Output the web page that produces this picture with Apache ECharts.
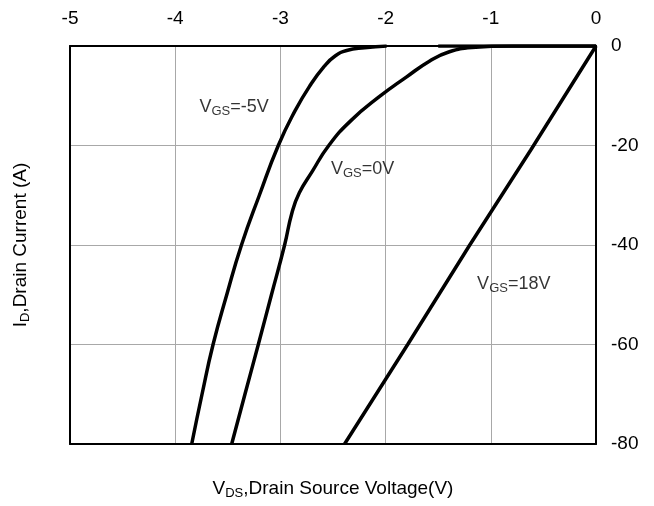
<!doctype html>
<html>
<head>
<meta charset="utf-8">
<title>ID-VDS</title>
<script src="https://cdn.jsdelivr.net/npm/echarts@6/dist/echarts.min.js"></script>
<style>
  html, body { margin: 0; padding: 0; background: #fff; }
  #chart { width: 654px; height: 506px; }
</style>
</head>
<body>
<div id="chart"></div>
<script>
// tick values
let xTicks = [-5, -4, -3, -2, -1, 0];
let yTicks = [0, -20, -40, -60, -80];

// curves: [VDS, ID]
let vgsM5 = [[-3.843, -80], [-3.745, -70], [-3.64, -60], [-3.51, -50], [-3.37, -40],
  [-3.2, -30], [-3.02, -20], [-2.86, -13], [-2.72, -8], [-2.58, -4], [-2.48, -2],
  [-2.37, -0.9], [-2.2, -0.35], [-1.99, 0]];
let vgs0 = [[-3.463, -80], [-3.337, -70], [-3.21, -60], [-3.085, -50], [-2.96, -40],
  [-2.89, -33.5], [-2.82, -29.5], [-2.7, -25.3], [-2.54, -20], [-2.33, -15],
  [-2.06, -10.2], [-1.8, -6.2], [-1.58, -3], [-1.4, -1.2], [-1.18, -0.3],
  [-0.8, 0], [0, 0]];
let vgs18 = [[-1.5, 0], [0, 0], [-0.62, -20.9], [-1.2, -40], [-1.79, -60], [-2.39, -80]];

// label anchors
let labels = [
  { name: '-5V', at: [-3.77, -12.2] },
  { name: '0V', at: [-2.52, -24.7] },
  { name: '18V', at: [-1.13, -47.8] }
];

let font = 'Liberation Sans, Arial, sans-serif';
function richSub(size, sub, pad) {
  return {
    n: { fontSize: size, fontFamily: font, color: '#000' },
    s: { fontSize: sub, fontFamily: font, color: '#000', verticalAlign: 'bottom', padding: [pad, 0, 0, 0] }
  };
}

var chart = echarts.init(document.getElementById('chart'));

function curve(data) {
  return {
    type: 'line', data: data, showSymbol: false, smooth: 0.5,
    lineStyle: { color: '#000', width: 3.5 }, z: 5, animation: false
  };
}

var option = {
  animation: false,
  grid: { left: 70, right: 58, top: 46, bottom: 62 },
  xAxis: [
    {
      type: 'value', position: 'top', min: -5, max: 0, interval: 1,
      axisLine: { show: true, lineStyle: { color: '#000', width: 2 } },
      axisTick: { show: false },
      axisLabel: { fontSize: 19, fontFamily: font, color: '#000', margin: 18 },
      splitLine: { show: true, lineStyle: { color: '#a8a8a8', width: 1 } }
    },
    {
      type: 'value', position: 'bottom', min: -5, max: 0, interval: 1,
      axisLine: { show: true, onZero: false, lineStyle: { color: '#000', width: 2 } },
      axisTick: { show: false }, axisLabel: { show: false }, splitLine: { show: false },
      name: '{n|V}{s|DS}{n|,Drain Source Voltage(V)}',
      nameLocation: 'middle', nameGap: 34,
      nameTextStyle: { rich: richSub(19, 13, 9) }
    }
  ],
  yAxis: [
    {
      type: 'value', position: 'right', min: -80, max: 0, interval: 20,
      axisLine: { show: true, onZero: false, lineStyle: { color: '#000', width: 2 } },
      axisTick: { show: false },
      axisLabel: { fontSize: 19, fontFamily: font, color: '#000', margin: 15, align: 'left' },
      splitLine: { show: true, lineStyle: { color: '#a8a8a8', width: 1 } }
    },
    {
      type: 'value', position: 'left', min: -80, max: 0, interval: 20,
      axisLine: { show: true, onZero: false, lineStyle: { color: '#000', width: 2 } },
      axisTick: { show: false }, axisLabel: { show: false }, splitLine: { show: false },
      name: '{n|I}{s|D}{n|,Drain Current (A)}',
      nameLocation: 'middle', nameGap: 38, nameRotate: 90,
      nameTextStyle: { rich: richSub(19, 13, 9) }
    }
  ],
  series: [
    curve(vgsM5),
    curve(vgs0),
    Object.assign(curve(vgs18), { smooth: false }),
    {
      type: 'scatter', symbolSize: 0, z: 6, silent: true,
      data: labels.map(function (l) { return { value: l.at, name: l.name }; }),
      label: {
        show: true, position: 'right', distance: 0,
        color: '#000', fontSize: 18, fontFamily: font,
        formatter: function (p) { return '{n|V}{s|GS}{n|=' + p.name + '}'; },
        rich: richSub(18, 13, 9)
      }
    }
  ]
};

chart.setOption(option);
</script>
</body>
</html>
